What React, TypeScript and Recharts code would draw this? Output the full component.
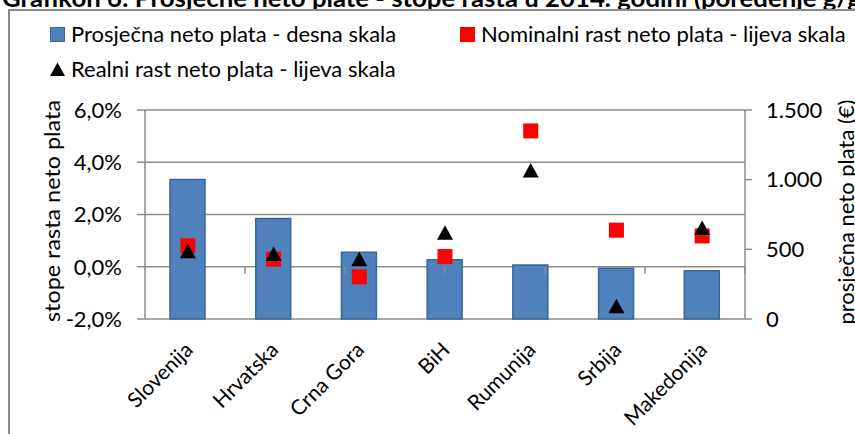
import React from 'react'
import {
  ComposedChart,
  Bar,
  Scatter,
  XAxis,
  YAxis,
  CartesianGrid,
  ReferenceLine
} from 'recharts'

// data
const countries = ['Slovenija', 'Hrvatska', 'Crna Gora', 'BiH', 'Rumunija', 'Srbija', 'Makedonija']
const avgNetWage = [1002, 721, 479, 426, 388, 364, 347] // € (right scale)
const nominalGrowth = [0.8, 0.29, -0.39, 0.39, 5.2, 1.4, 1.18] // % (left scale)
const realGrowth = [0.59, 0.49, 0.29, 1.3, 3.68, -1.51, 1.48] // % (left scale)

const leftTicks = [-2, 0, 2, 4, 6]
const rightTicks = [0, 500, 1000, 1500]
const categoryBoundaries = [1, 2, 3, 4, 5, 6]

const title = 'Grafikon 6: Prosječne neto plate - stope rasta u 2014. godini (poređenje g/g)'
const leftAxisTitle = 'stope rasta neto plata'
const rightAxisTitle = 'prosječna neto plata (€)'
const legendRows = [
  [
    { label: 'Prosječna neto plata - desna skala', marker: 'bar' },
    { label: 'Nominalni rast neto plata - lijeva skala', marker: 'square' }
  ],
  [{ label: 'Realni rast neto plata - lijeva skala', marker: 'triangle' }]
]

const FONT = 'Lato, "Open Sans", sans-serif'
const GRID = '#8c8c8c'
const BAR_FILL = '#4f81bd'
const BAR_STROKE = '#3b6797'

const data = countries.map((c, i) => ({
  country: c,
  wage: avgNetWage[i],
  nominal: nominalGrowth[i],
  real: realGrowth[i]
}))

const fmtPct = (v: number) => `${v.toFixed(1).replace('.', ',')}%`
const fmtEur = (v: number) => v.toLocaleString('de-DE')

const SquareShape = (props: any) => {
  const { cx, cy } = props
  if (cx == null || cy == null) return null
  return <rect x={cx - 7.5} y={cy - 7.5} width={15} height={15} fill="#ff0000" />
}

const TriangleShape = (props: any) => {
  const { cx, cy } = props
  if (cx == null || cy == null) return null
  return (
    <polygon
      points={`${cx},${cy - 7.5} ${cx + 8},${cy + 7} ${cx - 8},${cy + 7}`}
      fill="#000000"
    />
  )
}

const CountryTick = (props: any) => {
  const { x, payload } = props
  const ax = x + 1
  const ay = 346
  return (
    <text
      x={ax}
      y={ay}
      dy="0.35em"
      textAnchor="end"
      transform={`rotate(-45, ${ax}, ${ay})`}
      fontFamily={FONT}
      fontSize={21}
      fill="#000"
    >
      {payload.value}
    </text>
  )
}

const AxisTitle = ({ x, y, text, len }: { x: number; y: number; text: string; len: number }) => (
  <text
    x={x}
    y={y}
    transform={`rotate(-90, ${x}, ${y})`}
    textAnchor="middle"
    dominantBaseline="central"
    fontFamily={FONT}
    fontSize={21}
    textLength={len}
    lengthAdjust="spacingAndGlyphs"
    fill="#000"
  >
    {text}
  </text>
)

const LegendMarker = ({ type }: { type: string }) => {
  if (type === 'bar')
    return (
      <span style={{ display: 'inline-block', width: 13, height: 13, background: BAR_FILL, border: `1px solid ${BAR_STROKE}` }} />
    )
  if (type === 'square')
    return <span style={{ display: 'inline-block', width: 15, height: 15, background: '#ff0000' }} />
  return (
    <svg width={15} height={15} style={{ display: 'inline-block' }}>
      <polygon points="7.5,0.5 15,14 0,14" fill="#000" />
    </svg>
  )
}

export default function App() {
  return (
    <div
      style={{
        position: 'absolute',
        left: 0,
        top: 0,
        width: 855,
        height: 434,
        overflow: 'hidden',
        background: '#fff',
        fontFamily: FONT
      }}
    >
      {/* title, mostly cut off above the frame */}
      <svg width={855} height={20} style={{ position: 'absolute', left: 0, top: 0 }}>
        <text
          x={2}
          y={7}
          fontFamily={FONT}
          fontSize={24}
          fontWeight={700}
          textLength={866}
          lengthAdjust="spacingAndGlyphs"
          fill="#000"
        >
          {title}
        </text>
      </svg>

      {/* chart frame */}
      <div
        style={{
          position: 'absolute',
          left: 8,
          top: 9,
          width: 900,
          height: 500,
          border: '2px solid #8a8a8a'
        }}
      />

      {/* legend */}
      {legendRows.map((row, r) => (
        <div key={r} style={{ position: 'absolute', top: 21 + r * 35, left: 50, display: 'flex', whiteSpace: 'nowrap' }}>
          {row.map((item, i) => (
            <div
              key={i}
              style={{
                display: 'flex',
                alignItems: 'center',
                gap: 6,
                fontSize: 22,
                lineHeight: '26px',
                width: i === 0 ? 410 : undefined
              }}
            >
              <LegendMarker type={item.marker} />
              <span>{item.label}</span>
            </div>
          ))}
        </div>
      ))}

      <div style={{ position: 'absolute', left: 0, top: 0 }}>
        <ComposedChart
          width={855}
          height={434}
          data={data}
          margin={{ top: 110, right: 0, bottom: 0, left: 0 }}
        >
          <CartesianGrid
            yAxisId="left"
            vertical={false}
            stroke={GRID}
            strokeWidth={1.5}
          />
          <XAxis
            dataKey="country"
            interval={0}
            height={115}
            axisLine={false}
            tickLine={false}
            tick={<CountryTick />}
          />
          <XAxis xAxisId="pos" type="number" domain={[0, 7]} hide />
          <YAxis
            yAxisId="left"
            orientation="left"
            width={145}
            domain={[-2, 6]}
            ticks={leftTicks}
            tickFormatter={fmtPct}
            axisLine={{ stroke: GRID, strokeWidth: 1.5 }}
            tickLine={{ stroke: GRID, strokeWidth: 1.5 }}
            tickSize={8}
            tickMargin={15}
            tick={{ fill: '#000', fontSize: 22, fontFamily: FONT }}
            label={{ content: () => <AxisTitle x={51} y={211} text={leftAxisTitle} len={222} /> }}
          />
          <YAxis
            yAxisId="right"
            orientation="right"
            width={110}
            domain={[0, 1500]}
            ticks={rightTicks}
            tickFormatter={fmtEur}
            axisLine={{ stroke: GRID, strokeWidth: 1.5 }}
            tickLine={{ stroke: GRID, strokeWidth: 1.5 }}
            tickSize={7}
            tickMargin={14}
            tick={{ fill: '#000', fontSize: 22, fontFamily: FONT, textAnchor: 'start' }}
            label={{ content: () => <AxisTitle x={845} y={212} text={rightAxisTitle} len={225} /> }}
          />
          {categoryBoundaries.map((b) => (
            <ReferenceLine
              key={b}
              xAxisId="pos"
              yAxisId="left"
              segment={[
                { x: b, y: 0 },
                { x: b, y: -0.27 }
              ]}
              stroke={GRID}
              strokeWidth={1.5}
            />
          ))}
          <Bar
            yAxisId="right"
            dataKey="wage"
            barSize={35}
            fill={BAR_FILL}
            stroke={BAR_STROKE}
            strokeWidth={1.5}
            isAnimationActive={false}
          />
          <Scatter
            yAxisId="left"
            dataKey="nominal"
            shape={<SquareShape />}
            isAnimationActive={false}
          />
          <Scatter
            yAxisId="left"
            dataKey="real"
            shape={<TriangleShape />}
            isAnimationActive={false}
          />
        </ComposedChart>
      </div>
    </div>
  )
}
